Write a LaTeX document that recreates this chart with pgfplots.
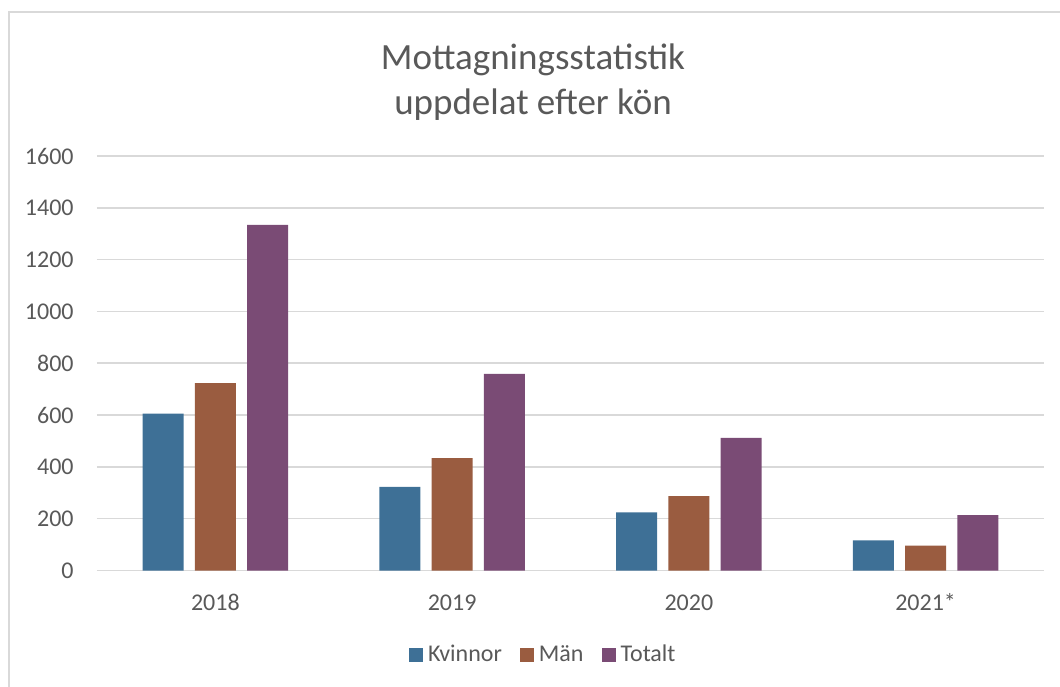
\documentclass[border=0pt]{standalone}
\usepackage{fontspec}
\setmainfont{Carlito}
\usepackage{pgfplots}
\pgfplotsset{compat=1.18}
\definecolor{cblue}{HTML}{3E7096}
\definecolor{cbrown}{HTML}{9A5C40}
\definecolor{cpurple}{HTML}{7A4B75}
\definecolor{gridgray}{HTML}{D9D9D9}
\definecolor{txt}{HTML}{595959}
\begin{document}
\begin{tikzpicture}
\useasboundingbox (-48.5pt,-57.75pt) rectangle (481.5pt,285.25pt);
\draw[draw=gridgray, line width=0.75pt] (-44pt,-90pt) rectangle (540pt,279.25pt);
\begin{axis}[
  at={(0,0)}, anchor=south west,
  scale only axis,
  width=473.5pt, height=207.25pt,
  xmin=-0.5, xmax=3.5,
  ymin=0, ymax=1600,
  xtick={0,1,2,3},
  xticklabels={2018,2019,2020,2021*},
  ytick={0,200,...,1600},
  axis line style={draw=none},
  major tick length=0pt,
  xmajorgrids=false,
  ymajorgrids=true,
  grid style={draw=gridgray, line width=0.8pt},
  /pgf/number format/assume math mode=true,
  /pgf/number format/1000 sep={},
  ticklabel style={font=\fontsize{12}{14}\selectfont, text=txt},
  yticklabel style={anchor=east, inner sep=0pt, xshift=-11.5pt},
  xticklabel style={anchor=base, inner sep=0pt, yshift=-19.75pt},
  ybar,
  bar width=0.173,
  legend columns=3,
  legend style={at={(0.3295,-0.2039)}, anchor=west, draw=none, inner sep=0pt, outer sep=0pt,
    nodes={inner sep=0pt, text=txt, font=\fontsize{12}{14}\selectfont},
    /tikz/every odd column/.append style={column sep=2.5pt},
    /tikz/every even column/.append style={column sep=9pt}},
  legend image code/.code={\fill[#1,draw=none] (0pt,-3.5pt) rectangle (7pt,3.5pt);},
]
\addplot[fill=cblue, draw=none, bar shift=-0.221] coordinates {(0,606) (1,323) (2,224) (3,116)};
\addplot[fill=cbrown, draw=none, bar shift=0] coordinates {(0,723) (1,434) (2,287) (3,96)};
\addplot[fill=cpurple, draw=none, bar shift=0.221] coordinates {(0,1334) (1,759) (2,512) (3,214)};
\legend{Kvinnor, Män, Totalt}
\end{axis}
\node[anchor=base, text=txt, font=\fontsize{18.5}{22}\selectfont, inner sep=0pt] at (218pt,250.6pt) {Mottagningsstatistik};
\node[anchor=base, text=txt, font=\fontsize{18.5}{22}\selectfont, inner sep=0pt] at (218pt,227.75pt) {uppdelat efter kön};
\end{tikzpicture}
\end{document}
